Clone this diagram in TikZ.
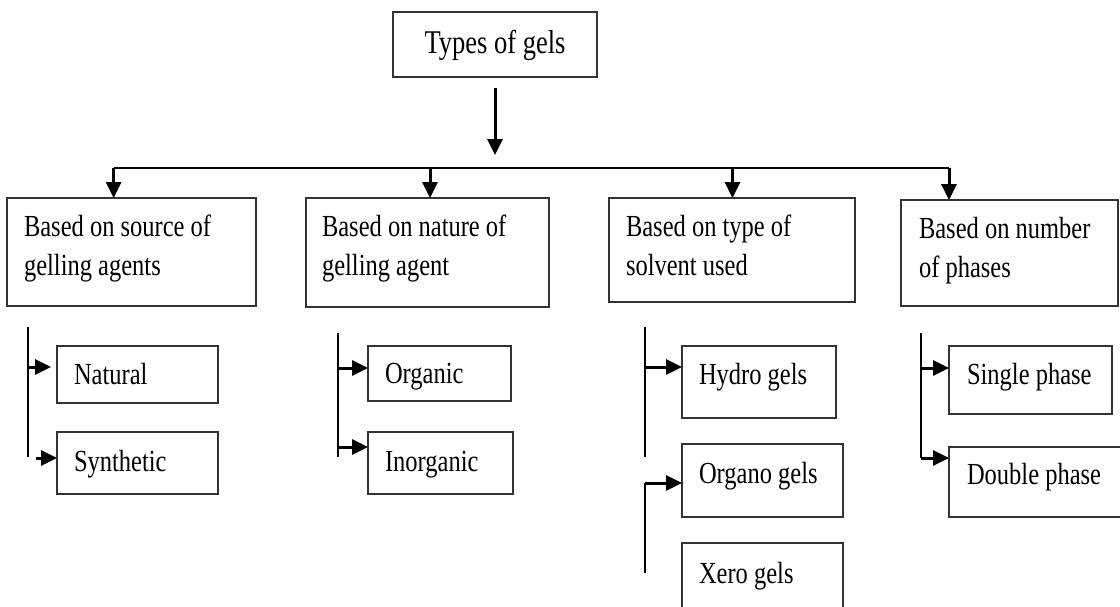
\documentclass[tikz,border=0pt]{standalone}
\usepackage{fontspec}
\usepackage{graphicx}
\setmainfont{Liberation Serif}
\usetikzlibrary{arrows.meta}
\newcommand\tx[1]{\scalebox{1}[1.25]{#1}}
\newcommand\twol[2]{\vtop{\hbox{#1}\hbox{#2}}}
\begin{document}
\begin{tikzpicture}[x=1pt,y=-1pt,
  font=\fontsize{24.5}{31.2}\selectfont,
  box/.style={draw=black!80, line width=1.2pt, inner ysep=0pt, outer sep=0pt, anchor=north west},
  arr/.style={line width=3pt, -{Triangle[length=16pt,width=15pt]}},
  ln/.style={line width=1.3pt}]
\useasboundingbox (0,0) rectangle (1120,606);
\clip (0,0) rectangle (1120,606);
\fill[white] (0,0) rectangle (1120,606);

% root
\node[box, inner xsep=0pt, text height=41pt, text depth=24pt] (top) at (393,12)
  {\makebox[204pt][c]{\fontsize{26.5}{30}\selectfont\tx{Types of gels}}};

% level 1
\node[box, inner xsep=17pt, text height=38pt, text depth=70pt] (A) at (7,198)
  {\makebox[215pt][l]{\tx{\twol{Based on source of}{gelling agents}}}};
\node[box, inner xsep=16pt, text height=38pt, text depth=71pt] (B) at (306,198)
  {\makebox[211pt][l]{\tx{\twol{Based on nature of}{gelling agent}}}};
\node[box, inner xsep=17pt, text height=38pt, text depth=66pt] (C) at (609,198)
  {\makebox[212pt][l]{\tx{\twol{Based on type of}{solvent used}}}};
\node[box, inner xsep=18pt, text height=38pt, text depth=68pt] (D) at (901,200)
  {\makebox[181pt][l]{\tx{\twol{Based on number}{of phases}}}};

% level 2
\node[box, inner xsep=17pt, text height=38pt, text depth=19pt] (nat) at (57,346)
  {\makebox[127pt][l]{\tx{Natural}}};
\node[box, inner xsep=17pt, text height=39pt, text depth=23pt] (syn) at (57,432)
  {\makebox[127pt][l]{\tx{Synthetic}}};
\node[box, inner xsep=17pt, text height=37pt, text depth=18pt] (orgc) at (368,346)
  {\makebox[109pt][l]{\tx{Organic}}};
\node[box, inner xsep=17pt, text height=39pt, text depth=23pt] (inorg) at (368,432)
  {\makebox[111pt][l]{\tx{Inorganic}}};
\node[box, inner xsep=17pt, text height=38pt, text depth=34pt] (hyd) at (682,346)
  {\makebox[120pt][l]{\tx{Hydro gels}}};
\node[box, inner xsep=17pt, text height=39pt, text depth=34pt] (orgn) at (682,444)
  {\makebox[127pt][l]{\tx{Organo gels}}};
\node[box, inner xsep=17pt, text height=40pt, text depth=27pt] (xer) at (682,543)
  {\makebox[127pt][l]{\tx{Xero gels}}};
\node[box, inner xsep=18pt, text height=38pt, text depth=30pt] (sgl) at (949,346)
  {\makebox[127pt][l]{\tx{Single phase}}};
\node[box, inner xsep=18pt, text height=37pt, text depth=33pt] (dbl) at (949,447)
  {\makebox[140pt][l]{\tx{Double phase}}};

% root arrow and bar
\coordinate (m1) at (495,88);
\coordinate (m2) at (495,155);
\draw[arr] (m1) -- (m2);
\coordinate (jA) at (113.6,168);
\coordinate (jB) at (430,168);
\coordinate (jC) at (732.5,168);
\coordinate (jD) at (949,168);
\draw[ln] (jA) -- (jD);
\draw[arr] (jA) -- (jA |- A.north);
\draw[arr] (jB) -- (jB |- B.north);
\draw[arr] (jC) -- (jC |- C.north);
\draw[arr] (jD) -- (jD |- D.north);

% branch A
\coordinate (a1) at (28,327);
\coordinate (a2) at (28,457);
\draw[ln] (a1) -- (a2);
\coordinate (an) at (27,367);
\draw[arr, shorten >=6pt] (an) -- (an -| nat.west);
\coordinate (as) at (36,458);
\draw[arr] (as) -- (as -| syn.west);

% branch B
\coordinate (b1) at (338,333);
\coordinate (b2) at (338,457);
\draw[ln] (b1) -- (b2);
\coordinate (bo) at (338,368);
\draw[arr] (bo) -- (bo -| orgc.west);
\coordinate (bi) at (338,447);
\draw[arr] (bi) -- (bi -| inorg.west);

% branch C
\coordinate (c1) at (645,327);
\coordinate (c2) at (645,457);
\draw[ln] (c1) -- (c2);
\coordinate (ch) at (645,367);
\draw[arr] (ch) -- (ch -| hyd.west);
\coordinate (c3) at (645,573);
\coordinate (c4) at (645,483);
\draw[ln] (c3) -- (c4);
\draw[arr] (c4) -- (c4 -| orgn.west);

% branch D
\coordinate (d1) at (921,333);
\coordinate (d2) at (921,458);
\draw[ln] (d1) -- (d2);
\coordinate (ds) at (921,368);
\draw[arr] (ds) -- (ds -| sgl.west);
\draw[arr] (d2) -- (d2 -| dbl.west);
\end{tikzpicture}
\end{document}
